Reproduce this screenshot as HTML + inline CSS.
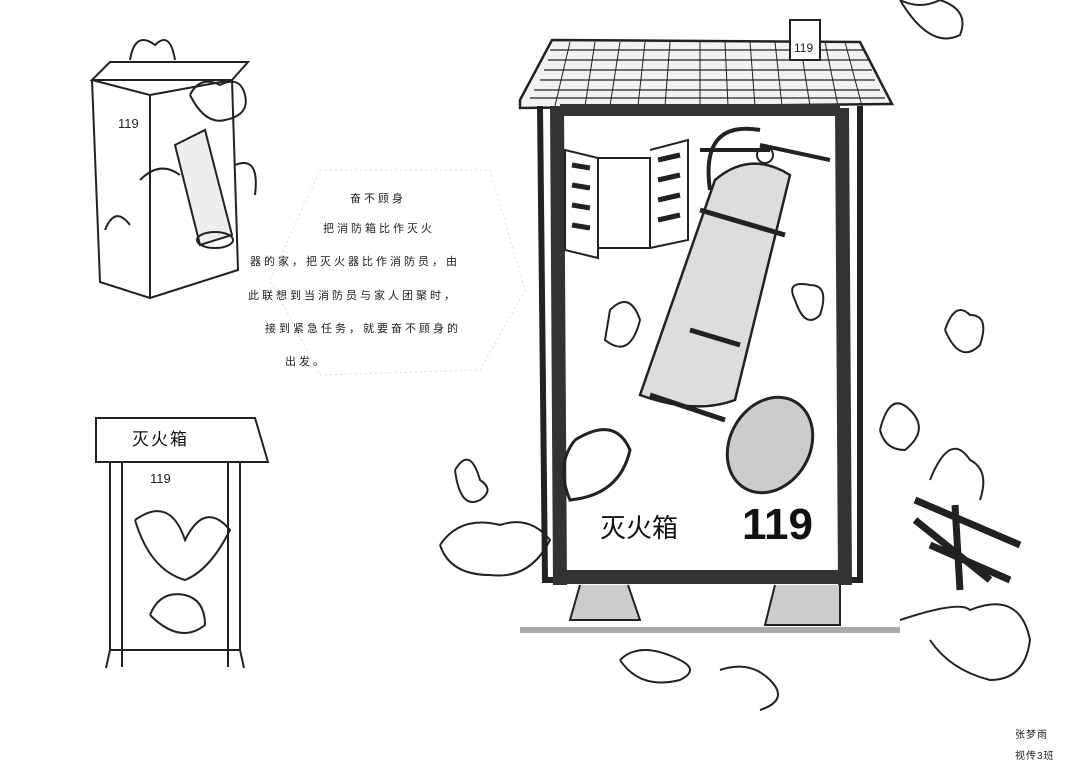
<!DOCTYPE html>
<html><head><meta charset="utf-8"><style>
html,body{margin:0;padding:0;background:#fff;width:1080px;height:765px;overflow:hidden}
.t{position:absolute;font-family:"Liberation Sans","Noto Sans CJK SC",sans-serif;font-size:11px;color:#222;white-space:nowrap;letter-spacing:3px}
</style></head><body>
<svg width="1080" height="765" style="position:absolute;left:0;top:0" fill="none" stroke="#222" stroke-width="2">
<!-- top-left box -->
<path d="M92 80 L110 62 L248 62 L232 80 Z M92 80 L100 282 L150 298 L150 95 L92 80 M150 95 L232 80 L238 270 L150 298"/>
<text x="118" y="128" font-size="13" fill="#222" stroke="none" font-family="Liberation Sans">119</text>
<path d="M175 145 L205 130 L232 235 L200 245 Z" stroke-width="2" fill="#eee"/>
<ellipse cx="215" cy="240" rx="18" ry="8"/>
<path d="M140 180 q20 -20 40 -5 M235 165 q25 -10 20 30 M105 230 q10 -25 25 -5 M130 60 q5 -30 25 -15 q15 -15 20 15 M190 95 q10 -20 30 -10 q20 -10 25 10 q5 20 -20 25 q-20 5 -35 -25"/>
<!-- hexagon text area -->
<path d="M320 170 L490 170 L525 290 L480 370 L320 375 L270 280 Z" stroke="#ddd" stroke-width="1" stroke-dasharray="2 3"/>
<!-- bottom-left box -->
<path d="M96 418 L112 418 L255 418 L268 462 L96 462 Z M122 462 L122 667 M228 462 L228 667 M110 462 L110 650 L240 650 L240 462 M110 650 L106 668 M240 650 L244 668"/>
<text x="150" y="483" font-size="13" fill="#222" stroke="none" font-family="Liberation Sans">119</text>
<path d="M135 520 q35 -25 50 20 q20 -40 45 -10 q-20 40 -45 50 q-35 -10 -50 -60 M150 615 q10 -25 35 -20 q20 5 20 30 q-25 20 -55 -10"/>
<!-- big house roof -->
<path d="M520 100 L552 40 L860 42 L892 104 L520 108 Z" stroke-width="2.5" fill="#f2f2f2"/>
<path d="M544 70 L872 70 M540 80 L875 80 M534 90 L880 90 M530 98 L885 98 M548 60 L868 60 M550 50 L864 50" stroke-width="1.2"/>
<path d="M570 42 L555 106 M595 42 L585 106 M620 42 L610 106 M645 42 L638 106 M670 42 L665 106 M700 42 L700 106 M725 42 L728 106 M750 42 L755 106 M775 42 L782 106 M800 42 L810 106 M825 42 L838 106 M845 42 L862 106" stroke-width="1"/>
<rect x="790" y="20" width="30" height="40" fill="#fff"/>
<text x="794" y="52" font-size="12" fill="#222" stroke="none" font-family="Liberation Sans">119</text>
<!-- cabinet frame -->
<path d="M540 106 L545 580 L860 580 L860 106" stroke-width="6"/>
<path d="M557 106 L560 585 M842 108 L845 585" stroke-width="14" stroke="#333"/>
<rect x="560" y="104" width="280" height="12" fill="#333" stroke="none"/>
<rect x="560" y="570" width="285" height="14" fill="#333" stroke="none"/>
<!-- window -->
<path d="M565 150 L598 158 L598 258 L565 250 Z M598 158 L650 158 L650 248 L598 248 M650 150 L688 140 L688 240 L650 248"/>
<path d="M572 165 L590 168 M572 185 L590 188 M572 205 L590 208 M572 225 L590 228 M658 160 L680 155 M658 180 L680 175 M658 200 L680 195 M658 220 L680 215" stroke-width="5"/>
<!-- extinguisher -->
<path d="M715 180 q35 -30 75 -5 L735 400 q-40 15 -95 -5 Z" stroke-width="2.5" fill="#ddd"/>
<path d="M700 210 L785 235 M690 330 L740 345 M650 395 L725 420" stroke-width="5"/>
<path d="M700 150 L770 150 M760 145 L830 160 M760 130 q-60 -10 -50 60" stroke-width="4"/>
<circle cx="765" cy="155" r="8"/>
<path d="M610 310 q20 -20 30 10 q-10 40 -35 20 z M795 300 q-10 -20 15 -15 q20 0 10 30 q-15 15 -25 -15"/>
<ellipse cx="770" cy="445" rx="40" ry="50" transform="rotate(30 770 445)" stroke-width="3" fill="#ccc"/>
<path d="M575 440 q40 -25 55 10 q-10 45 -60 50 q-15 -35 5 -60" stroke-width="3"/>
<!-- feet -->
<path d="M580 585 L570 620 L640 620 L628 585 M775 585 L765 625 L840 625 L840 585" fill="#ccc"/>
<line x1="520" y1="630" x2="900" y2="630" stroke="#aaa" stroke-width="6"/>
<!-- fires & smoke -->
<path d="M440 545 q20 -30 60 -20 q30 -10 50 15 q-20 40 -60 35 q-40 0 -50 -30 M455 470 q15 -25 25 10 q15 10 0 20 q-20 10 -25 -30 M620 660 q20 -20 60 0 q20 10 0 20 q-40 10 -60 -20 M720 670 q30 -10 50 10 q20 20 -10 30 M900 620 q60 -20 70 -10 q50 -20 60 30 q-5 40 -40 40 q-40 -10 -60 -40 M945 330 q10 -30 25 -15 q20 0 10 30 q-20 20 -35 -15 M880 430 q10 -40 30 -20 q20 20 -5 40 q-20 0 -25 -20 M930 480 q20 -50 40 -20 q20 10 10 40 M900 0 q20 10 40 0 q30 10 20 35 q-30 15 -60 -35"/>
<path d="M915 500 L1020 545 M930 545 L1010 580 M955 505 L960 590 M915 520 L990 580" stroke-width="7"/>
</svg>
<div class="t" style="left:350px;top:190px">奋不顾身</div>
<div class="t" style="left:323px;top:220px">把消防箱比作灭火</div>
<div class="t" style="left:250px;top:253px">器的家，把灭火器比作消防员，由</div>
<div class="t" style="left:248px;top:287px">此联想到当消防员与家人团聚时，</div>
<div class="t" style="left:265px;top:320px">接到紧急任务，就要奋不顾身的</div>
<div class="t" style="left:285px;top:353px">出发。</div>
<div class="t" style="left:132px;top:425px;font-size:17px;letter-spacing:2px;color:#111">灭火箱</div>
<div class="t" style="left:600px;top:508px;font-size:26px;letter-spacing:0;color:#111">灭火箱</div>
<div class="t" style="left:742px;top:500px;font-size:44px;font-weight:bold;letter-spacing:0;color:#111">119</div>
<div class="t" style="left:1015px;top:726px;font-size:10px;letter-spacing:1px">张梦雨</div>
<div class="t" style="left:1015px;top:747px;font-size:10px;letter-spacing:1px">视传3班</div>
</body></html>
